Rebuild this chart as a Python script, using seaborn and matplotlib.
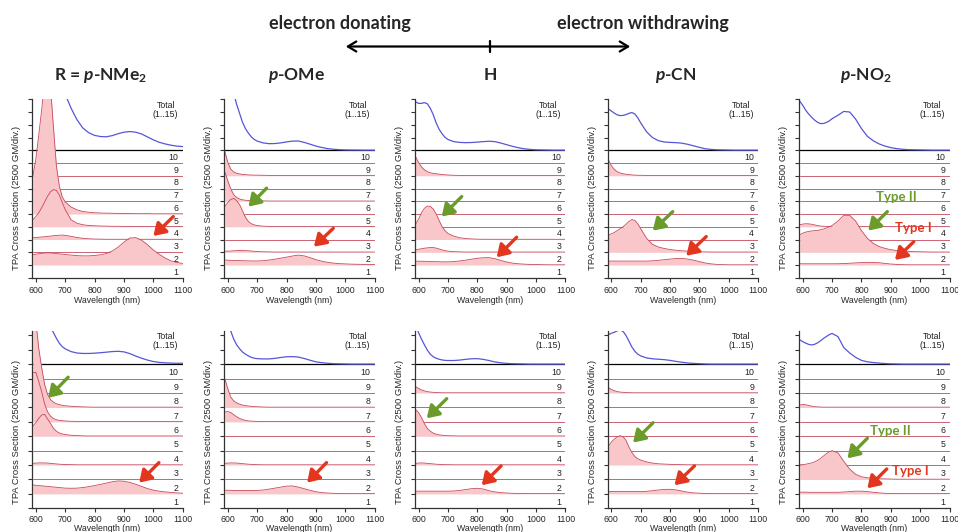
import numpy as np
import seaborn as sns
import matplotlib.pyplot as plt
from matplotlib.patches import FancyArrowPatch
from matplotlib.lines import Line2D

# wavelength grid (nm) shared by every trace
WL = [590, 600, 610, 620, 630, 640, 650, 660, 670, 680, 690, 700,
      720, 740, 760, 780, 800, 820, 840, 860, 880, 900,
      920, 940, 960, 980, 1000, 1020, 1040, 1060, 1080, 1100]
FLAT = [0.0] * len(WL)

# values in divisions (1 div = 2500 GM); top row
NME2_TOP_TOTAL = [14, 13, 12, 11, 10, 9, 8.2, 7.3, 6.5, 5.7, 5.0, 4.4,
                  3.3, 2.4, 1.75, 1.38, 1.17, 1.08, 1.06, 1.15, 1.3, 1.42,
                  1.47, 1.42, 1.28, 1.05, 0.82, 0.63, 0.5, 0.4, 0.33, 0.29]
NME2_TOP_S6 = [3.0, 4.3, 6.2, 8.2, 10.5, 11.5, 10.0, 6.8, 3.8, 2.2, 1.35, 0.95,
               0.55, 0.33, 0.2, 0.14, 0.1, 0.08, 0.07, 0.06, 0.05, 0.04,
               0.04, 0.03, 0.03, 0.03, 0.02, 0.02, 0.02, 0.02, 0.02, 0.02]
NME2_TOP_S5 = [0.55, 0.8, 1.1, 1.5, 1.95, 2.4, 2.75, 2.92, 2.85, 2.5, 1.9, 1.35,
               0.55, 0.28, 0.16, 0.1, 0.08, 0.06, 0.05, 0.04, 0.04, 0.03,
               0.03, 0.03, 0.03, 0.02, 0.02, 0.02, 0.02, 0.02, 0.02, 0.02]
NME2_TOP_S4 = [0.14, 0.16, 0.18, 0.2, 0.22, 0.25, 0.27, 0.3, 0.32, 0.34, 0.35, 0.33,
               0.25, 0.16, 0.1, 0.06, 0.04, 0.03, 0.02, 0.02, 0.02, 0.02,
               0.02, 0.02, 0.02, 0.02, 0.02, 0.02, 0.02, 0.02, 0.02, 0.02]
NME2_TOP_S2 = [0.8, 0.85, 0.89, 0.92, 0.94, 0.95, 0.94, 0.93, 0.9, 0.88, 0.85, 0.83,
               0.78, 0.74, 0.72, 0.72, 0.75, 0.8, 0.9, 1.1, 1.4, 1.8,
               2.12, 2.15, 1.95, 1.6, 1.18, 0.85, 0.55, 0.33, 0.2, 0.13]

OME_TOP_TOTAL = [8, 6.5, 5.4, 4.5, 3.6, 2.9, 2.2, 1.7, 1.35, 1.05, 0.85, 0.72,
                 0.58, 0.52, 0.53, 0.58, 0.66, 0.72, 0.73, 0.62, 0.48, 0.33,
                 0.22, 0.13, 0.08, 0.05, 0.03, 0.02, 0.02, 0.01, 0.01, 0.01]
OME_TOP_S9 = [1.9, 1.05, 0.52, 0.3, 0.2, 0.15, 0.11, 0.09, 0.07, 0.06, 0.05, 0.05,
              0.04, 0.03, 0.02, 0.02, 0.02, 0.02, 0.02, 0.02, 0.02, 0.02,
              0.02, 0.02, 0.02, 0.02, 0.02, 0.02, 0.02, 0.02, 0.02, 0.02]
OME_TOP_S7 = [2.3, 1.6, 0.98, 0.52, 0.3, 0.18, 0.12, 0.08, 0.06, 0.05, 0.04, 0.04,
              0.03, 0.02, 0.02, 0.02, 0.02, 0.02, 0.02, 0.02, 0.02, 0.02,
              0.02, 0.02, 0.02, 0.02, 0.02, 0.02, 0.02, 0.02, 0.02, 0.02]
OME_TOP_S5 = [1.6, 1.9, 2.15, 2.23, 2.05, 1.75, 1.25, 0.75, 0.42, 0.24, 0.15, 0.1,
              0.05, 0.03, 0.02, 0.02, 0.02, 0.02, 0.02, 0.02, 0.02, 0.02,
              0.02, 0.02, 0.02, 0.02, 0.02, 0.02, 0.02, 0.02, 0.02, 0.02]
OME_TOP_S3 = [0.08, 0.09, 0.1, 0.12, 0.13, 0.14, 0.14, 0.13, 0.12, 0.1, 0.08, 0.06,
              0.04, 0.03, 0.02, 0.02, 0.02, 0.02, 0.02, 0.02, 0.02, 0.02,
              0.02, 0.02, 0.02, 0.02, 0.02, 0.02, 0.02, 0.02, 0.02, 0.02]
OME_TOP_S2 = [0.4, 0.38, 0.37, 0.36, 0.35, 0.35, 0.34, 0.33, 0.33, 0.32, 0.32, 0.32,
              0.34, 0.39, 0.46, 0.54, 0.62, 0.71, 0.78, 0.72, 0.58, 0.42,
              0.3, 0.21, 0.15, 0.11, 0.09, 0.07, 0.06, 0.05, 0.05, 0.05]

H_TOP_TOTAL = [3.8, 3.68, 3.68, 3.74, 3.65, 3.3, 2.8, 2.15, 1.65, 1.3, 1.02, 0.85,
               0.68, 0.62, 0.6, 0.61, 0.64, 0.68, 0.71, 0.68, 0.57, 0.44,
               0.31, 0.2, 0.12, 0.07, 0.04, 0.03, 0.02, 0.01, 0.01, 0.01]
H_TOP_S9 = [1.5, 1.05, 0.7, 0.47, 0.32, 0.24, 0.19, 0.16, 0.13, 0.1, 0.08, 0.06,
            0.04, 0.03, 0.02, 0.02, 0.02, 0.02, 0.02, 0.02, 0.02, 0.02,
            0.02, 0.02, 0.02, 0.02, 0.02, 0.02, 0.02, 0.02, 0.02, 0.02]
H_TOP_S4 = [1.2, 1.6, 2.1, 2.45, 2.62, 2.6, 2.4, 2.0, 1.5, 1.02, 0.7, 0.48,
            0.27, 0.14, 0.08, 0.05, 0.03, 0.02, 0.02, 0.02, 0.02, 0.02,
            0.02, 0.02, 0.02, 0.02, 0.02, 0.02, 0.02, 0.02, 0.02, 0.02]
H_TOP_S3 = [0.2, 0.24, 0.28, 0.32, 0.35, 0.37, 0.37, 0.33, 0.26, 0.19, 0.13, 0.09,
            0.05, 0.03, 0.02, 0.02, 0.02, 0.02, 0.02, 0.02, 0.02, 0.02,
            0.02, 0.02, 0.02, 0.02, 0.02, 0.02, 0.02, 0.02, 0.02, 0.02]
H_TOP_S2 = [0.31, 0.3, 0.3, 0.29, 0.29, 0.28, 0.27, 0.26, 0.26, 0.25, 0.25, 0.25,
            0.27, 0.32, 0.38, 0.46, 0.53, 0.57, 0.58, 0.5, 0.36, 0.24,
            0.15, 0.1, 0.07, 0.05, 0.04, 0.03, 0.02, 0.02, 0.02, 0.02]

CN_TOP_TOTAL = [3.25, 3.08, 2.92, 2.78, 2.72, 2.74, 2.8, 2.9, 2.96, 2.85, 2.55, 2.15,
                1.45, 1.0, 0.76, 0.65, 0.62, 0.6, 0.56, 0.47, 0.35, 0.23,
                0.12, 0.07, 0.04, 0.03, 0.02, 0.01, 0.01, 0.01, 0.01, 0.01]
CN_TOP_S9 = [1.25, 0.8, 0.5, 0.32, 0.22, 0.16, 0.12, 0.09, 0.07, 0.05, 0.04, 0.04,
             0.03, 0.02, 0.02, 0.02, 0.02, 0.02, 0.02, 0.02, 0.02, 0.02,
             0.02, 0.02, 0.02, 0.02, 0.02, 0.02, 0.02, 0.02, 0.02, 0.02]
CN_TOP_S3 = [1.35, 1.45, 1.55, 1.7, 1.85, 2.0, 2.2, 2.42, 2.57, 2.5, 2.25, 1.85,
             1.1, 0.62, 0.42, 0.3, 0.22, 0.16, 0.12, 0.09, 0.06, 0.04,
             0.03, 0.02, 0.02, 0.02, 0.02, 0.02, 0.02, 0.02, 0.02, 0.02]
CN_TOP_S2 = [0.31, 0.31, 0.31, 0.31, 0.31, 0.31, 0.31, 0.31, 0.31, 0.31, 0.31, 0.31,
             0.31, 0.33, 0.37, 0.42, 0.47, 0.51, 0.52, 0.47, 0.38, 0.27,
             0.16, 0.09, 0.05, 0.03, 0.02, 0.02, 0.02, 0.02, 0.02, 0.02]

NO2_TOP_TOTAL = [3.85, 3.53, 3.15, 2.85, 2.6, 2.38, 2.2, 2.1, 2.1, 2.18, 2.3, 2.48,
                 2.75, 3.05, 3.0, 2.45, 1.7, 1.1, 0.75, 0.5, 0.33, 0.21,
                 0.13, 0.08, 0.05, 0.04, 0.03, 0.02, 0.01, 0.01, 0.01, 0.01]
NO2_TOP_S5 = [0.17, 0.21, 0.24, 0.23, 0.2, 0.15, 0.1, 0.06, 0.04, 0.03, 0.02, 0.02,
              0.02, 0.02, 0.02, 0.02, 0.02, 0.02, 0.02, 0.02, 0.02, 0.02,
              0.02, 0.02, 0.02, 0.02, 0.02, 0.02, 0.02, 0.02, 0.02, 0.02]
NO2_TOP_S3 = [1.38, 1.5, 1.58, 1.64, 1.67, 1.7, 1.72, 1.76, 1.82, 1.9, 2.0, 2.1,
              2.45, 2.9, 2.9, 2.45, 1.7, 1.1, 0.7, 0.45, 0.31, 0.2,
              0.14, 0.1, 0.07, 0.05, 0.04, 0.03, 0.02, 0.02, 0.02, 0.02]
NO2_TOP_S2 = [0.1, 0.1, 0.1, 0.1, 0.1, 0.1, 0.1, 0.1, 0.1, 0.1, 0.1, 0.1,
              0.1, 0.12, 0.14, 0.17, 0.19, 0.21, 0.21, 0.18, 0.13, 0.08,
              0.05, 0.03, 0.02, 0.02, 0.02, 0.02, 0.02, 0.02, 0.02, 0.02]

# bottom row
NME2_BOT_TOTAL = [6, 5.2, 4.5, 3.9, 3.4, 2.95, 2.55, 2.2, 1.8, 1.46, 1.22, 1.07,
                  0.88, 0.78, 0.75, 0.75, 0.77, 0.8, 0.84, 0.88, 0.9, 0.86,
                  0.74, 0.57, 0.42, 0.29, 0.19, 0.13, 0.1, 0.08, 0.07, 0.07]
NME2_BOT_S8 = [7.5, 6.0, 4.1, 2.75, 1.6, 0.9, 0.55, 0.36, 0.26, 0.2, 0.15, 0.12,
               0.08, 0.06, 0.04, 0.03, 0.02, 0.02, 0.02, 0.02, 0.02, 0.02,
               0.02, 0.02, 0.02, 0.02, 0.02, 0.02, 0.02, 0.02, 0.02, 0.02]
NME2_BOT_S7 = [3.4, 3.45, 2.8, 2.08, 1.25, 0.7, 0.4, 0.23, 0.15, 0.1, 0.08, 0.06,
               0.04, 0.03, 0.02, 0.02, 0.02, 0.02, 0.02, 0.02, 0.02, 0.02,
               0.02, 0.02, 0.02, 0.02, 0.02, 0.02, 0.02, 0.02, 0.02, 0.02]
NME2_BOT_S6 = [0.7, 0.95, 1.25, 1.48, 1.52, 1.2, 0.9, 0.55, 0.35, 0.23, 0.16, 0.12,
               0.07, 0.05, 0.03, 0.02, 0.02, 0.02, 0.02, 0.02, 0.02, 0.02,
               0.02, 0.02, 0.02, 0.02, 0.02, 0.02, 0.02, 0.02, 0.02, 0.02]
NME2_BOT_S4 = [0.12, 0.14, 0.15, 0.15, 0.15, 0.14, 0.12, 0.1, 0.08, 0.06, 0.05, 0.04,
               0.03, 0.02, 0.02, 0.02, 0.02, 0.02, 0.02, 0.02, 0.02, 0.02,
               0.02, 0.02, 0.02, 0.02, 0.02, 0.02, 0.02, 0.02, 0.02, 0.02]
NME2_BOT_S2 = [0.62, 0.6, 0.58, 0.56, 0.54, 0.52, 0.5, 0.48, 0.46, 0.44, 0.42, 0.4,
               0.39, 0.4, 0.44, 0.5, 0.58, 0.66, 0.75, 0.84, 0.9, 0.88,
               0.8, 0.67, 0.52, 0.37, 0.26, 0.19, 0.14, 0.1, 0.07, 0.05]

OME_BOT_TOTAL = [3.3, 2.85, 2.3, 1.75, 1.35, 1.08, 0.85, 0.7, 0.58, 0.48, 0.42, 0.39,
                 0.37, 0.37, 0.41, 0.47, 0.52, 0.53, 0.5, 0.4, 0.28, 0.17,
                 0.11, 0.07, 0.04, 0.03, 0.02, 0.01, 0.01, 0.01, 0.01, 0.01]
OME_BOT_S8 = [2.0, 1.3, 0.72, 0.46, 0.32, 0.23, 0.17, 0.13, 0.1, 0.08, 0.06, 0.05,
              0.03, 0.02, 0.02, 0.02, 0.02, 0.02, 0.02, 0.02, 0.02, 0.02,
              0.02, 0.02, 0.02, 0.02, 0.02, 0.02, 0.02, 0.02, 0.02, 0.02]
OME_BOT_S7 = [0.68, 0.72, 0.65, 0.5, 0.36, 0.24, 0.16, 0.1, 0.07, 0.05, 0.04, 0.03,
              0.02, 0.02, 0.02, 0.02, 0.02, 0.02, 0.02, 0.02, 0.02, 0.02,
              0.02, 0.02, 0.02, 0.02, 0.02, 0.02, 0.02, 0.02, 0.02, 0.02]
OME_BOT_S4 = [0.12, 0.14, 0.15, 0.15, 0.14, 0.12, 0.1, 0.08, 0.06, 0.05, 0.04, 0.03,
              0.02, 0.02, 0.02, 0.02, 0.02, 0.02, 0.02, 0.02, 0.02, 0.02,
              0.02, 0.02, 0.02, 0.02, 0.02, 0.02, 0.02, 0.02, 0.02, 0.02]
OME_BOT_S2 = [0.25, 0.25, 0.25, 0.24, 0.24, 0.23, 0.23, 0.23, 0.23, 0.23, 0.23, 0.24,
              0.27, 0.33, 0.4, 0.47, 0.54, 0.55, 0.47, 0.36, 0.25, 0.15,
              0.09, 0.06, 0.04, 0.03, 0.02, 0.02, 0.02, 0.02, 0.02, 0.02]

H_BOT_TOTAL = [2.7, 2.2, 1.75, 1.35, 0.98, 0.7, 0.52, 0.42, 0.35, 0.3, 0.27, 0.26,
               0.26, 0.29, 0.34, 0.38, 0.39, 0.34, 0.26, 0.16, 0.1, 0.06,
               0.04, 0.03, 0.02, 0.01, 0.01, 0.01, 0.01, 0.01, 0.01, 0.01]
H_BOT_S9 = [0.45, 0.32, 0.22, 0.15, 0.1, 0.07, 0.05, 0.04, 0.03, 0.02, 0.02, 0.02,
            0.02, 0.02, 0.02, 0.02, 0.02, 0.02, 0.02, 0.02, 0.02, 0.02,
            0.02, 0.02, 0.02, 0.02, 0.02, 0.02, 0.02, 0.02, 0.02, 0.02]
H_BOT_S6 = [1.85, 1.65, 1.3, 0.88, 0.55, 0.35, 0.22, 0.14, 0.1, 0.07, 0.05, 0.04,
            0.03, 0.02, 0.02, 0.02, 0.02, 0.02, 0.02, 0.02, 0.02, 0.02,
            0.02, 0.02, 0.02, 0.02, 0.02, 0.02, 0.02, 0.02, 0.02, 0.02]
H_BOT_S4 = [0.12, 0.14, 0.15, 0.14, 0.12, 0.1, 0.08, 0.06, 0.05, 0.04, 0.03, 0.03,
            0.02, 0.02, 0.02, 0.02, 0.02, 0.02, 0.02, 0.02, 0.02, 0.02,
            0.02, 0.02, 0.02, 0.02, 0.02, 0.02, 0.02, 0.02, 0.02, 0.02]
H_BOT_S2 = [0.19, 0.19, 0.19, 0.19, 0.19, 0.19, 0.19, 0.19, 0.19, 0.19, 0.19, 0.19,
            0.2, 0.24, 0.3, 0.36, 0.39, 0.34, 0.22, 0.14, 0.09, 0.06,
            0.04, 0.03, 0.02, 0.02, 0.02, 0.02, 0.02, 0.02, 0.02, 0.02]

CN_BOT_TOTAL = [2.05, 2.15, 2.22, 2.32, 2.38, 2.28, 2.0, 1.6, 1.2, 0.9, 0.7, 0.58,
                0.44, 0.38, 0.35, 0.32, 0.27, 0.2, 0.14, 0.09, 0.06, 0.04,
                0.02, 0.01, 0.01, 0.01, 0.01, 0.01, 0.01, 0.01, 0.01, 0.01]
CN_BOT_S9 = [0.38, 0.25, 0.16, 0.1, 0.07, 0.05, 0.04, 0.03, 0.02, 0.02, 0.02, 0.02,
             0.02, 0.02, 0.02, 0.02, 0.02, 0.02, 0.02, 0.02, 0.02, 0.02,
             0.02, 0.02, 0.02, 0.02, 0.02, 0.02, 0.02, 0.02, 0.02, 0.02]
CN_BOT_S4 = [1.3, 1.6, 1.8, 1.96, 2.04, 1.97, 1.72, 1.25, 0.88, 0.6, 0.44, 0.35,
             0.22, 0.14, 0.09, 0.07, 0.05, 0.04, 0.03, 0.02, 0.02, 0.02,
             0.02, 0.02, 0.02, 0.02, 0.02, 0.02, 0.02, 0.02, 0.02, 0.02]
CN_BOT_S2 = [0.16, 0.16, 0.16, 0.16, 0.16, 0.16, 0.16, 0.16, 0.16, 0.16, 0.16, 0.16,
             0.18, 0.22, 0.27, 0.31, 0.32, 0.28, 0.2, 0.12, 0.07, 0.05,
             0.03, 0.02, 0.02, 0.02, 0.02, 0.02, 0.02, 0.02, 0.02, 0.02]

NO2_BOT_TOTAL = [1.7, 1.57, 1.47, 1.38, 1.34, 1.38, 1.48, 1.62, 1.78, 1.92, 2.05, 2.14,
                 1.92, 1.15, 0.78, 0.48, 0.27, 0.17, 0.12, 0.08, 0.05, 0.03,
                 0.02, 0.01, 0.01, 0.01, 0.01, 0.01, 0.01, 0.01, 0.01, 0.01]
NO2_BOT_S8 = [0.17, 0.21, 0.19, 0.14, 0.09, 0.06, 0.04, 0.03, 0.02, 0.02, 0.02, 0.02,
              0.02, 0.02, 0.02, 0.02, 0.02, 0.02, 0.02, 0.02, 0.02, 0.02,
              0.02, 0.02, 0.02, 0.02, 0.02, 0.02, 0.02, 0.02, 0.02, 0.02]
NO2_BOT_S3 = [1.02, 1.03, 1.06, 1.1, 1.15, 1.22, 1.32, 1.45, 1.62, 1.78, 1.92, 2.0,
              1.85, 1.25, 0.72, 0.36, 0.19, 0.12, 0.08, 0.05, 0.04, 0.03,
              0.02, 0.02, 0.02, 0.02, 0.02, 0.02, 0.02, 0.02, 0.02, 0.02]
NO2_BOT_S2 = [0.12, 0.12, 0.12, 0.11, 0.11, 0.11, 0.11, 0.11, 0.11, 0.11, 0.11, 0.11,
              0.11, 0.13, 0.16, 0.19, 0.19, 0.16, 0.11, 0.07, 0.04, 0.03,
              0.02, 0.02, 0.02, 0.02, 0.02, 0.02, 0.02, 0.02, 0.02, 0.02]

HEADERS = ['electron donating', 'electron withdrawing']
COLUMN_TITLES = [r'R = $\mathit{p}$-NMe$_\mathrm{2}$', r'$\mathit{p}$-OMe', 'H',
                 r'$\mathit{p}$-CN', r'$\mathit{p}$-NO$_\mathrm{2}$']
STATE_LABELS = [str(k) for k in range(1, 11)]
TOTAL_LABEL = 'Total\n(1..15)'
XTICKS = [600, 700, 800, 900, 1000, 1100]

# (row, col, total, {state: trace})
PANELS = [
    (0, 0, NME2_TOP_TOTAL, {6: NME2_TOP_S6, 5: NME2_TOP_S5, 4: NME2_TOP_S4, 2: NME2_TOP_S2}),
    (0, 1, OME_TOP_TOTAL, {9: OME_TOP_S9, 7: OME_TOP_S7, 5: OME_TOP_S5, 3: OME_TOP_S3, 2: OME_TOP_S2}),
    (0, 2, H_TOP_TOTAL, {9: H_TOP_S9, 4: H_TOP_S4, 3: H_TOP_S3, 2: H_TOP_S2}),
    (0, 3, CN_TOP_TOTAL, {9: CN_TOP_S9, 3: CN_TOP_S3, 2: CN_TOP_S2}),
    (0, 4, NO2_TOP_TOTAL, {5: NO2_TOP_S5, 3: NO2_TOP_S3, 2: NO2_TOP_S2}),
    (1, 0, NME2_BOT_TOTAL, {8: NME2_BOT_S8, 7: NME2_BOT_S7, 6: NME2_BOT_S6, 4: NME2_BOT_S4, 2: NME2_BOT_S2}),
    (1, 1, OME_BOT_TOTAL, {8: OME_BOT_S8, 7: OME_BOT_S7, 4: OME_BOT_S4, 2: OME_BOT_S2}),
    (1, 2, H_BOT_TOTAL, {9: H_BOT_S9, 6: H_BOT_S6, 4: H_BOT_S4, 2: H_BOT_S2}),
    (1, 3, CN_BOT_TOTAL, {9: CN_BOT_S9, 4: CN_BOT_S4, 2: CN_BOT_S2}),
    (1, 4, NO2_BOT_TOTAL, {8: NO2_BOT_S8, 3: NO2_BOT_S3, 2: NO2_BOT_S2}),
]

# annotation arrows (tail x, tail y, head x, head y, kind) in data units
ARROWS = {
    (0, 0): [(1068, 4.8, 1000, 3.28, 'r')],
    (0, 1): [(732, 7.03, 670, 5.58, 'g'), (959, 3.88, 893, 2.44, 'r')],
    (0, 2): [(747, 6.37, 679, 4.8, 'g'), (934, 3.18, 866, 1.61, 'r')],
    (0, 3): [(809, 5.19, 741, 3.7, 'g'), (923, 3.23, 855, 1.73, 'r')],
    (0, 4): [(888, 5.19, 823, 3.7, 'g'), (978, 2.83, 914, 1.4, 'r')],
    (1, 0): [(710, 9.1, 642, 7.67, 'g'), (1019, 3.17, 952, 1.78, 'r')],
    (1, 1): [(936, 3.17, 870, 1.78, 'r')],
    (1, 2): [(696, 7.61, 628, 6.25, 'g'), (881, 2.94, 815, 1.6, 'r')],
    (1, 3): [(742, 5.94, 674, 4.56, 'g'), (883, 2.94, 815, 1.6, 'r')],
    (1, 4): [(820, 4.86, 752, 3.47, 'g'), (886, 2.73, 820, 1.39, 'r')],
}
TYPE_LABELS = {
    (0, 4): [(920, 6.37, 'Type II', 'g'), (977, 3.88, 'Type I', 'r')],
    (1, 4): [(898, 5.39, 'Type II', 'g'), (966, 2.61, 'Type I', 'r')],
}

sns.set_theme(style='ticks')
plt.rcParams['font.family'] = ['Liberation Sans', 'DejaVu Sans']
plt.rcParams['mathtext.fontset'] = 'custom'
plt.rcParams['mathtext.rm'] = 'Lato:bold'
plt.rcParams['mathtext.it'] = 'Lato:italic:bold'

W, H = 958, 532
LINE_RED = '#c44a5c'
FILL_PINK = '#f9c6c9'
BLUE = '#5656d6'
ARROW_COLORS = {'r': '#e3361e', 'g': '#6a9b2b'}
LEFTS = [32.3, 224.3, 415.0, 607.8, 799.2]
# top px, bottom px, y max (divisions), tick pad, y-label centre (axes fraction)
ROWS = [(99.3, 277.8, 14.0, 3.0, 0.45), (330.7, 508.3, 12.33, 1.5, 0.43)]
PW = 150.4
FS = 6.3

fig = plt.figure(figsize=(W / 100, H / 100), dpi=100)
fig.patch.set_facecolor('white')

for row, col, total, states in PANELS:
    top, bot, ymax, xpad, ylab_y = ROWS[row]
    ax = fig.add_axes([LEFTS[col] / W, 1 - bot / H, PW / W, (bot - top) / H])
    px_div = (bot - top) / ymax

    ax.axhline(10, color='black', lw=0.9, zorder=1)
    sns.lineplot(x=WL, y=np.array(total) + 10, color=BLUE, lw=0.9, ax=ax, zorder=2)

    for k in range(10, 0, -1):
        vals = np.array(states.get(k, FLAT)) + (k - 1)
        z = 3 + (10 - k) * 2
        ax.fill_between(WL, k - 1, vals, color=FILL_PINK, lw=0, zorder=z)
        sns.lineplot(x=WL, y=vals, color=LINE_RED, lw=0.6, ax=ax, zorder=z + 1)
        ax.text(1086, k - 1 + 5.7 / px_div, STATE_LABELS[k - 1], ha='right', va='center',
                fontsize=FS, color='#222222', zorder=30)

    ax.text(0.971, 0.99, TOTAL_LABEL, transform=ax.transAxes, ha='right', va='top',
            multialignment='center', fontsize=FS, linespacing=1.0, color='#222222')

    for x0, y0, x1, y1, kind in ARROWS.get((row, col), []):
        ax.annotate('', xy=(x1, y1), xytext=(x0, y0),
                    arrowprops=dict(arrowstyle='-|>,head_length=0.7,head_width=0.45',
                                    lw=2.4, color=ARROW_COLORS[kind], mutation_scale=10,
                                    shrinkA=0, shrinkB=0),
                    zorder=40)
    for x, y, txt, kind in TYPE_LABELS.get((row, col), []):
        ax.text(x, y, txt, ha='center', va='center', fontsize=9.5, fontweight='bold',
                family='Lato', color=ARROW_COLORS[kind], zorder=40)

    ax.set_xlim(588, 1100)
    ax.set_ylim(0, ymax)
    ax.set_xticks(XTICKS)
    ax.set_yticks(range(0, int(ymax) + 1))
    ax.set_yticklabels([])
    ax.tick_params(axis='x', labelsize=FS, length=3, width=0.8, pad=xpad, color='#333333')
    ax.tick_params(axis='y', length=3, width=0.8, pad=0, color='#333333')
    for side in ['top', 'right']:
        ax.spines[side].set_visible(False)
    for side in ['left', 'bottom']:
        ax.spines[side].set_color('#333333')
        ax.spines[side].set_linewidth(0.9)
        ax.spines[side].set_zorder(50)
    ax.set_xlabel('Wavelength (nm)', fontsize=FS, labelpad=0.5 if row == 0 else 0)
    ax.set_ylabel('TPA Cross Section (2500 GM/div.)', fontsize=6.8)
    ax.yaxis.set_label_coords(-0.072, ylab_y)
    ax.set_facecolor('white')

# header: substituent scale
fig.text(340 / W, 1 - 29.5 / H, HEADERS[0], ha='center', va='baseline', fontsize=13,
         fontweight='bold', family='Lato')
fig.text(642.5 / W, 1 - 29.5 / H, HEADERS[1], ha='center', va='baseline', fontsize=13,
         fontweight='bold', family='Lato')
fig.add_artist(FancyArrowPatch((343 / W, 1 - 46.5 / H), (633 / W, 1 - 46.5 / H),
                               transform=fig.transFigure,
                               arrowstyle='<->,head_length=0.5,head_width=0.3',
                               mutation_scale=12, lw=1.6, color='black'))
fig.add_artist(Line2D([489.5 / W, 489.5 / W], [1 - 40.5 / H, 1 - 52 / H],
                      transform=fig.transFigure, lw=1.6, color='black'))

for x, title in zip([101, 297, 490, 676, 866], COLUMN_TITLES):
    fig.text(x / W, 1 - 80 / H, title, ha='center', va='baseline', fontsize=12.5,
             fontweight='bold', family='Lato')

fig.savefig('out.png', dpi=100)
